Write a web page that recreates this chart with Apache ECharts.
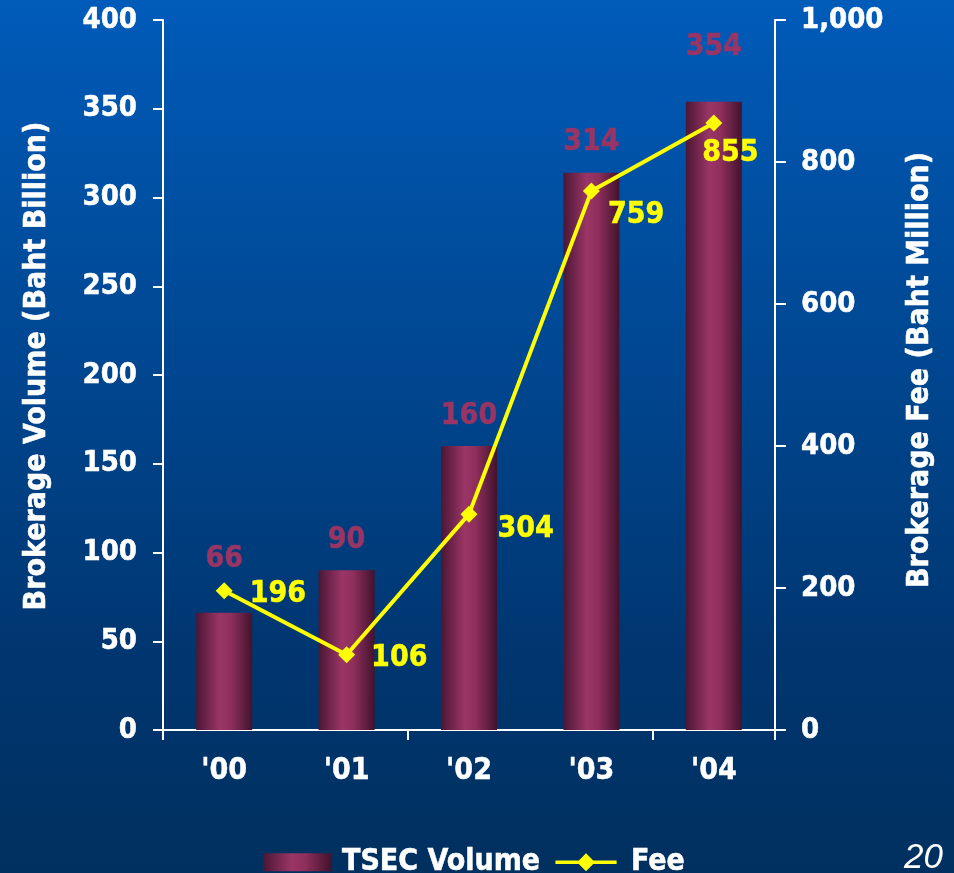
<!DOCTYPE html>
<html>
<head>
<meta charset="utf-8">
<script src="https://cdn.jsdelivr.net/npm/echarts@6/dist/echarts.min.js"></script>
<style>
  html, body { margin: 0; padding: 0; background: #00305f; }
  #chart { width: 954px; height: 873px; }
</style>
</head>
<body>
<div id="chart"></div>
<script>
// Years, TSEC brokerage volume (Baht billion) and brokerage fee (Baht million)
const years = ["'00", "'01", "'02", "'03", "'04"];
const volume = [66, 90, 160, 314, 354];
const fee = [196, 106, 304, 759, 855];

// Axis ranges
const volumeAxis = { min: 0, max: 400, step: 50 };
const feeAxis = { min: 0, max: 1000, step: 200 };

const FONT = "'DejaVu Sans Condensed', 'DejaVu Sans', sans-serif";

// Label placement tweaks per point
const volumeLabelShift = [[0, -24], [0, 0], [0, 0], [0, 0], [0, -24]];
const feeLabelShift = [[17, 3], [16, 3], [20, 15], [8, 24], [-20, 30]];

const barFill = new echarts.graphic.LinearGradient(0, 0, 1, 0, [
  { offset: 0, color: '#4a1735' },
  { offset: 0.42, color: '#9b3566' },
  { offset: 0.62, color: '#8e2f5c' },
  { offset: 1, color: '#42132d' }
]);

// Legend marker for the fee line: a thick stroke with a diamond in the middle
const feeLegendIcon = 'path://M0,7 L26,7 L34,-1 L42,7 L68,7 L68,11 L42,11 L34,19 L26,11 L0,11 Z';

const whiteBold = (size) => ({
  color: '#ffffff', fontSize: size, fontWeight: 'bold', fontFamily: FONT,
  textBorderColor: '#ffffff', textBorderWidth: 0.5
});

const chart = echarts.init(document.getElementById('chart'), null, { renderer: 'canvas' });

chart.setOption({
  backgroundColor: new echarts.graphic.LinearGradient(0, 0, 0, 1, [
    { offset: 0, color: '#005bb9' },
    { offset: 0.75, color: '#003670' },
    { offset: 1, color: '#00305f' }
  ]),
  animation: false,
  textStyle: { fontFamily: FONT },
  grid: { left: 163, right: 179, top: 20, bottom: 143, containLabel: false },
  legend: {
    left: 258,
    top: 842,
    itemWidth: 68,
    itemHeight: 18,
    itemGap: 15,
    textStyle: Object.assign(whiteBold(30), { padding: [0, 0, 0, 6] }),
    data: [
      { name: 'TSEC Volume', icon: 'rect' },
      { name: 'Fee', icon: feeLegendIcon, itemStyle: { color: '#ffff00' } }
    ]
  },
  xAxis: {
    type: 'category',
    data: years,
    boundaryGap: true,
    axisLine: { lineStyle: { color: '#ffffff', width: 2 } },
    axisTick: {
      show: true,
      interval: (i) => i % 2 === 0,
      length: 10,
      lineStyle: { color: '#ffffff', width: 2 }
    },
    axisLabel: Object.assign(whiteBold(30), { margin: 26, lineHeight: 30 })
  },
  yAxis: [
    {
      type: 'value',
      min: volumeAxis.min, max: volumeAxis.max, interval: volumeAxis.step,
      position: 'left',
      name: 'Brokerage Volume (Baht Billion)',
      nameLocation: 'middle',
      nameRotate: 90,
      nameGap: 111,
      nameTextStyle: Object.assign(whiteBold(30), { padding: [0, 0, 0, 18] }),
      axisLine: { show: true, lineStyle: { color: '#ffffff', width: 2 } },
      axisTick: { show: true, length: 10, lineStyle: { color: '#ffffff', width: 2 } },
      axisLabel: Object.assign(whiteBold(29), { margin: 26 }),
      splitLine: { show: false }
    },
    {
      type: 'value',
      min: feeAxis.min, max: feeAxis.max, interval: feeAxis.step,
      position: 'right',
      name: 'Brokerage Fee (Baht Million)',
      nameLocation: 'middle',
      nameRotate: 90,
      nameGap: 130,
      nameTextStyle: Object.assign(whiteBold(30), { padding: [0, 0, 0, 10] }),
      axisLine: { show: true, lineStyle: { color: '#ffffff', width: 2 } },
      axisTick: { show: true, length: 11, lineStyle: { color: '#ffffff', width: 2 } },
      axisLabel: Object.assign(whiteBold(29), {
        margin: 26,
        formatter: v => v.toLocaleString('en-US')
      }),
      splitLine: { show: false }
    }
  ],
  series: [
    {
      name: 'TSEC Volume',
      type: 'bar',
      yAxisIndex: 0,
      barWidth: 56,
      itemStyle: { color: barFill },
      label: {
        show: true,
        position: 'top',
        distance: 15,
        color: '#983565',
        fontSize: 30,
        fontWeight: 'bold',
        fontFamily: FONT,
        textBorderColor: '#983565',
        textBorderWidth: 0.5
      },
      data: volume.map((v, i) => ({ value: v, label: { offset: volumeLabelShift[i] } }))
    },
    {
      name: 'Fee',
      type: 'line',
      yAxisIndex: 1,
      symbol: 'diamond',
      symbolSize: 17,
      lineStyle: { color: '#ffff00', width: 4 },
      itemStyle: { color: '#ffff00' },
      label: {
        show: true,
        position: 'right',
        distance: 0,
        color: '#ffff00',
        fontSize: 30,
        fontWeight: 'bold',
        fontFamily: FONT,
        textBorderColor: '#ffff00',
        textBorderWidth: 0.5
      },
      data: fee.map((v, i) => ({ value: v, label: { offset: feeLabelShift[i] } }))
    }
  ],
  graphic: [
    {
      type: 'text',
      left: 904,
      top: 841,
      style: {
        text: '20',
        fill: '#ffffff',
        fontSize: 35,
        fontStyle: 'italic',
        fontFamily: "'Liberation Sans', Arial, sans-serif"
      }
    }
  ]
});
</script>
</body>
</html>
